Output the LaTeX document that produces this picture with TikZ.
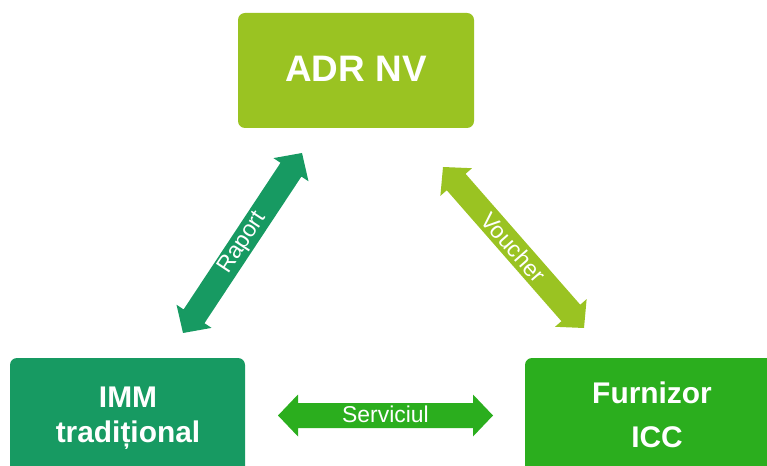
\documentclass[tikz,border=0pt]{standalone}
\usepackage{fontspec}
\setmainfont{Liberation Sans}
\usetikzlibrary{calc}
\definecolor{adrgreen}{RGB}{154,195,34}
\definecolor{immgreen}{RGB}{23,154,98}
\definecolor{furngreen}{RGB}{43,174,30}
\tikzset{
  box/.style={fill=#1, draw=none, rounded corners=7bp},
  boxtext/.style={text=white, font=\bfseries\fontsize{30}{36}\selectfont, anchor=base, inner sep=0pt},
  arrowlabel/.style={text=white, font=\fontsize{23}{27}\selectfont, inner sep=0pt},
}
\newcommand\blockarrow[3]{%
  \fill[#3]
    (#1)
    -- ($($(#1)!20bp!(#2)$)!21bp!90:(#2)$)
    -- ($($(#1)!20bp!(#2)$)!12.5bp!90:(#2)$)
    -- ($($(#2)!20bp!(#1)$)!12.5bp!-90:(#1)$)
    -- ($($(#2)!20bp!(#1)$)!21bp!-90:(#1)$)
    -- (#2)
    -- ($($(#2)!20bp!(#1)$)!21bp!90:(#1)$)
    -- ($($(#2)!20bp!(#1)$)!12.5bp!90:(#1)$)
    -- ($($(#1)!20bp!(#2)$)!12.5bp!-90:(#2)$)
    -- ($($(#1)!20bp!(#2)$)!21bp!-90:(#2)$)
    -- cycle;}
\begin{document}
\begin{tikzpicture}[x=1bp,y=-1bp]
\useasboundingbox (0,0) rectangle (767,466);
\clip (0,0) rectangle (767,466);
% boxes
\path[box=adrgreen] (238,13) rectangle (474,128);
\path[box=immgreen] (10,358) rectangle (245,490);
\path[box=furngreen] (525,358) rectangle (785,490);
\node[boxtext, font=\bfseries\fontsize{37}{44}\selectfont] (adr) at (356,82) {ADR NV};
\node[boxtext] (imm1) at (128,407) {IMM};
\node[boxtext] (imm2) at (128,442) {tradițional};
\node[boxtext] (furn1) at (652,403) {Furnizor};
\node[boxtext] (furn2) at (657,447) {ICC};
% arrow ends
\coordinate (r1) at (183,333);
\coordinate (r2) at (302,153);
\coordinate (v1) at (443,167);
\coordinate (v2) at (584,328);
\coordinate (s1) at (278,415.5);
\coordinate (s2) at (493,415.5);
\blockarrow{r1}{r2}{immgreen}
\blockarrow{v1}{v2}{adrgreen}
\blockarrow{s1}{s2}{furngreen}
\path (r1) -- (r2) node[midway, sloped, arrowlabel] (raport) {Raport};
\path (v1) -- (v2) node[midway, sloped, arrowlabel] (voucher) {Voucher};
\node[arrowlabel, anchor=base] (serv) at (385.5,422) {Serviciul};
\end{tikzpicture}
\end{document}
